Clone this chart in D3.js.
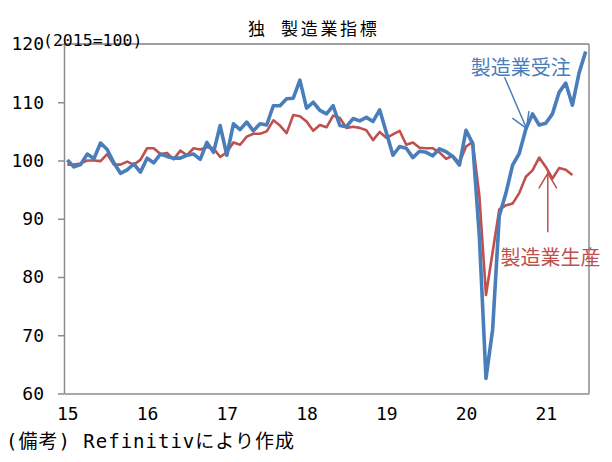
<!DOCTYPE html>
<html>
<head>
<meta charset="utf-8">
<script src="https://cdn.jsdelivr.net/npm/d3@7"></script>
<style>
  body { margin: 0; background: #fff; }
  svg { display: block; }
</style>
</head>
<body>
<div id="my_dataviz"></div>
<script>
var width = 612;
var height = 462;

// monthly, Jan 2015 .. Jul 2021
var yearLabels = ['15', '16', '17', '18', '19', '20', '21'];
var yTicks = [60, 70, 80, 90, 100, 110, 120];

// 製造業受注 (orders), Jan 2015 - Jul 2021
var orders = [
    100.1, 98.9, 99.3, 101.1, 100.3, 103.0, 101.9, 99.6, 97.8, 98.4, 99.4, 98.0,
    100.4, 99.6, 101.1, 100.7, 100.4, 100.4, 100.9, 101.1, 100.2, 103.1, 101.4, 106.0,
    100.9, 106.3, 105.3, 106.6, 105.1, 106.3, 106.1, 109.4, 109.4, 110.6, 110.7, 113.8,
    109.0, 110.0, 108.6, 108.0, 109.4, 106.0, 105.8, 107.2, 106.8, 107.4, 106.7, 108.7,
    104.8, 100.9, 102.4, 102.1, 100.5, 101.6, 101.4, 100.8, 102.0, 101.5, 100.7, 99.2,
    105.2, 102.9, 87.0, 62.6, 71.0, 90.5, 94.4, 99.2, 101.2, 105.4, 108.0, 106.1,
    106.4, 108.0, 111.7, 113.3, 109.5, 115.0, 118.7
];

// 製造業生産 (production), Jan 2015 - May 2021
var production = [
    99.3, 99.3, 99.5, 100.0, 100.0, 99.9, 101.1, 99.3, 99.3, 99.8, 99.3, 100.1,
    102.1, 102.1, 101.1, 101.3, 100.2, 101.7, 100.9, 102.1, 101.9, 102.3, 102.1, 100.6,
    101.4, 103.1, 102.7, 104.1, 104.6, 104.6, 105.0, 106.9, 106.0, 104.7, 107.8, 107.6,
    106.7, 105.1, 106.1, 105.7, 107.7, 107.3, 105.6, 105.8, 105.6, 105.2, 103.5, 104.9,
    103.9, 104.5, 105.1, 102.7, 103.1, 102.2, 102.1, 102.1, 101.4, 100.3, 100.8, 99.6,
    102.4, 103.2, 94.0, 76.9, 84.3, 91.6, 92.3, 92.6, 94.4, 97.2, 98.3, 100.5,
    98.9, 96.9, 98.7, 98.4, 97.5
];

var nMonths = 79;

var plotLeft = 64, plotRight = 589, plotTop = 44, plotBottom = 393.5;

var blue = '#4a7ebb';
var red = '#c0504d';
var axis_colour = '#8c8c8c';
var frame_colour = '#404040';
var monoFont = '"DejaVu Sans Mono", "Noto Sans CJK JP", monospace';
var cjkFont = '"Noto Sans CJK JP", sans-serif';

var svg = d3.select("#my_dataviz").append('svg').attr('width', width).attr('height', height);

var x = d3.scaleLinear().domain([-0.5, nMonths - 0.5]).range([plotLeft, plotRight]);
var y = d3.scaleLinear().domain([60, 120]).range([plotBottom, plotTop]);

// frame (top / right)
svg.append('line').attr('x1', plotLeft).attr('y1', plotTop).attr('x2', plotRight).attr('y2', plotTop)
    .attr('stroke', frame_colour).attr('stroke-width', 1);
svg.append('line').attr('x1', plotRight).attr('y1', plotTop).attr('x2', plotRight).attr('y2', plotBottom)
    .attr('stroke', axis_colour).attr('stroke-width', 1.5);

// y axis
var yAxis = svg.append('g').attr('transform', 'translate(' + plotLeft + ',0)')
    .call(d3.axisLeft(y).tickValues(yTicks).tickSize(6).tickPadding(14).tickSizeOuter(0));
yAxis.select('.domain').attr('stroke', axis_colour).attr('stroke-width', 1.5);
yAxis.selectAll('.tick line').attr('stroke', axis_colour).attr('stroke-width', 1.5);
yAxis.selectAll('.tick text').attr('font-family', monoFont).attr('font-size', 18).attr('fill', '#000');

// x axis
var xAxis = svg.append('g').attr('transform', 'translate(0,' + plotBottom + ')')
    .call(d3.axisBottom(x).tickValues(d3.range(0, nMonths, 12)).tickSize(0).tickPadding(14)
        .tickFormat(function(d, i){ return yearLabels[i]; }));
xAxis.select('.domain').attr('stroke', axis_colour).attr('stroke-width', 1.5);
xAxis.selectAll('.tick text').attr('font-family', monoFont).attr('font-size', 18).attr('fill', '#000');

// lines
var line = d3.line().x(function(d, i){ return x(i); }).y(function(d){ return y(d); });

svg.append('path').datum(production).attr('d', line)
    .attr('fill', 'none').attr('stroke', red).attr('stroke-width', 2.6).attr('stroke-linejoin', 'round');
svg.append('path').datum(orders).attr('d', line)
    .attr('fill', 'none').attr('stroke', blue).attr('stroke-width', 3.6).attr('stroke-linejoin', 'round');

// arrow markers
function addMarker(id, colour){
    svg.append('defs').append('marker').attr('id', id)
        .attr('viewBox', '-20 -12 24 24').attr('refX', 0).attr('refY', 0)
        .attr('markerUnits', 'userSpaceOnUse').attr('markerWidth', 24).attr('markerHeight', 24)
        .attr('orient', 'auto')
        .append('path').attr('d', 'M-15,-9 L0,0 L-15,9')
        .attr('fill', 'none').attr('stroke', colour).attr('stroke-width', 1.5);
}
addMarker('arrowBlue', blue);
addMarker('arrowRed', red);

// annotations (placed in data space)
svg.append('line').attr('x1', x(65.8)).attr('y1', y(114.3)).attr('x2', x(69.1)).attr('y2', y(105.5))
    .attr('stroke', blue).attr('stroke-width', 1.5).attr('marker-end', 'url(#arrowBlue)');
svg.append('text').attr('x', x(60.7)).attr('y', y(114.6)).text('製造業受注')
    .attr('font-family', cjkFont).attr('font-size', 20).attr('fill', blue);

svg.append('line').attr('x1', x(72.3)).attr('y1', y(87.7)).attr('x2', x(72.3)).attr('y2', y(97.8))
    .attr('stroke', red).attr('stroke-width', 1.5).attr('marker-end', 'url(#arrowRed)');
svg.append('text').attr('x', x(65.2)).attr('y', y(82.1)).text('製造業生産')
    .attr('font-family', cjkFont).attr('font-size', 20).attr('fill', red);

// title, unit, note
var title = svg.append('text').attr('x', 248).attr('y', 35)
    .attr('font-family', cjkFont).attr('font-size', 17).attr('fill', '#000');
title.append('tspan').text('独');
title.append('tspan').attr('dx', 16).attr('letter-spacing', 2.7).text('製造業指標');

svg.append('text').attr('x', 43).attr('y', 46).text('(2015=100)')
    .attr('font-family', monoFont).attr('font-size', 16.5).attr('fill', '#000');

svg.append('text').attr('x', 6).attr('y', 448).text('(備考) Refinitivにより作成')
    .attr('font-family', monoFont).attr('font-size', 19).attr('letter-spacing', 1).attr('fill', '#000');
</script>
</body>
</html>
